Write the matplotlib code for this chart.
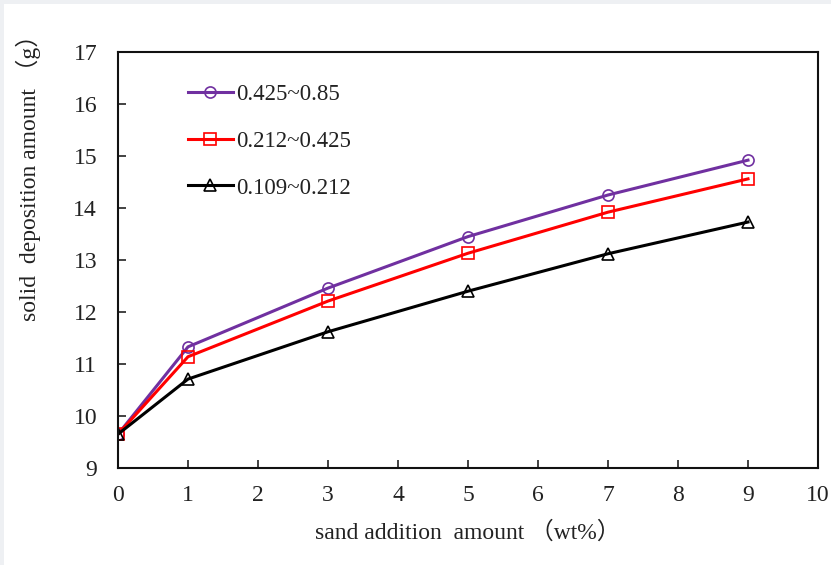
import matplotlib
matplotlib.use("Agg")
import matplotlib.pyplot as plt
from matplotlib.patches import Rectangle

x = [0, 1, 3, 5, 7, 9]
coarse = [9.65, 11.33, 12.46, 13.45, 14.25, 14.92]
medium = [9.65, 11.14, 12.21, 13.13, 13.92, 14.56]
fine = [9.65, 10.71, 11.62, 12.40, 13.12, 13.73]
labels = ["0.425~0.85", "0.212~0.425", "0.109~0.212"]
xticks = list(range(0, 11))
yticks = list(range(9, 18))

plt.rcParams['font.family'] = ['Liberation Serif', 'Noto Sans CJK SC']

fig = plt.figure(figsize=(8.31, 5.65), dpi=100)
fig.patch.set_facecolor('#eef0f3')
fig.patches.append(Rectangle((4/831, 0), 1 - 4/831, 1 - 4/565, transform=fig.transFigure,
                             facecolor='white', edgecolor='none', zorder=-10))
ax = fig.add_axes([118/831, 97/565, 700/831, 416/565])
ax.set_facecolor('white')

ax.plot(x, coarse, color='#7030A0', lw=2.2, marker='o', ms=8, mfc='none', mec='#7030A0', mew=1.2, label=labels[0])
ax.plot(x, medium, color='#FF0000', lw=2.2, marker='s', ms=8, mfc='none', mec='#FF0000', mew=1.2, label=labels[1])
ax.plot(x, fine, color='#000000', lw=2.2, marker='^', ms=8, mfc='none', mec='#000000', mew=1.2, label=labels[2])

ax.set_xlim(0, 10)
ax.set_ylim(9, 17)
ax.set_xticks(xticks)
ax.set_yticks(yticks)
ax.tick_params(axis='both', direction='in', length=6, width=1.2, labelsize=17, colors='#222222')
ax.tick_params(axis='x', pad=12)
ax.tick_params(axis='y', pad=15)
for s in ax.spines.values():
    s.set_linewidth(1.5)
    s.set_color('#111111')

ax.set_xlabel("sand addition  amount （wt%）", fontsize=17, labelpad=11, color='#222222')
fig.text(28/831, 1 - 172/565, "solid  deposition amount （g）", rotation=90, ha='center', va='center',
         fontsize=17, color='#222222')

leg = ax.legend(loc='upper left', bbox_to_anchor=(0.087, 0.945), frameon=False, fontsize=16.5,
                handlelength=1.95, handletextpad=0.15, labelspacing=1.12, borderaxespad=0)
for t in leg.get_texts():
    t.set_color('#222222')

fig.savefig("out.png", dpi=100, facecolor=fig.get_facecolor())
